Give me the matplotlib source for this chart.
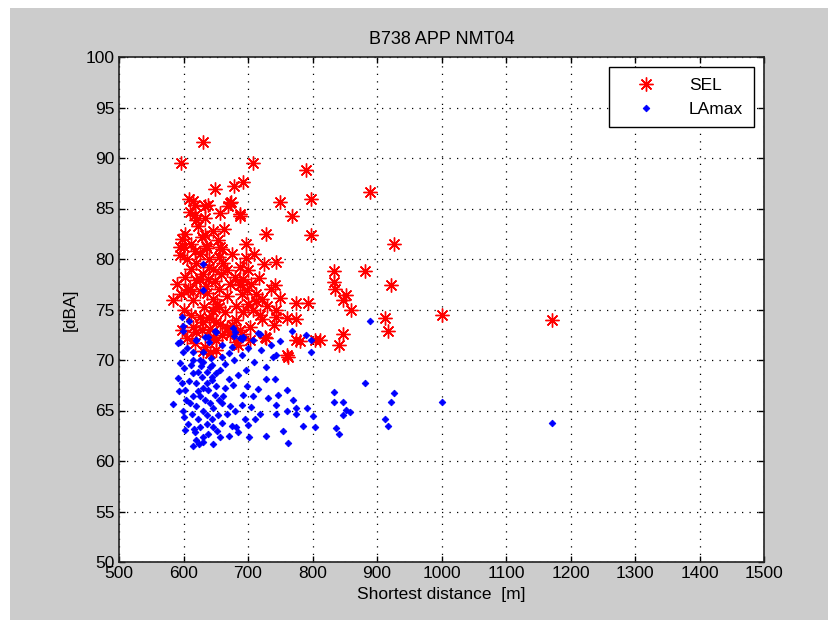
import matplotlib
matplotlib.use("Agg")
import matplotlib.pyplot as plt
from matplotlib.patches import Rectangle

## Data
sel_dist = [631, 596, 707, 790, 889, 649, 678, 692, 609, 615,
            618, 633, 638, 674, 669, 657, 687, 749, 768, 797,
            728, 797, 610, 618, 634, 622, 602, 597, 633, 635,
            654, 656, 595, 926, 833, 882, 833, 835, 921, 852,
            848, 859, 912, 917, 848, 841, 1000, 1172, 812, 697,
            744, 717, 742, 687, 713, 775, 793, 749, 743, 760,
            774, 721, 726, 775, 804, 760, 583, 595, 600, 667,
            688, 602, 620, 649, 680, 698, 682, 667, 636, 615,
            607, 646, 626, 657, 682, 719, 703, 641, 615, 646,
            672, 700, 618, 633, 641, 631, 651, 728, 762, 780,
            690, 703, 682, 744, 620, 636, 672, 688, 620,
            605, 612, 625, 640, 645, 655, 662, 675, 630, 638,
            658, 672, 610, 625, 645, 655, 690, 705, 600, 612,
            632, 640, 652, 665, 675, 692, 708, 620, 630, 660,
            688, 598, 605, 625, 650, 635, 618, 660, 628, 645,
            663, 612, 697, 710, 590, 596, 655, 668, 640, 628,
            692, 712, 735, 725, 722, 740, 730, 700, 685, 650]
sel_db = [91.6, 89.5, 89.5, 88.8, 86.6, 86.9, 87.2, 87.6, 85.9, 85.7,
          85.3, 85.2, 85.3, 85.6, 85.2, 84.6, 84.3, 85.6, 84.3, 85.9,
          82.5, 82.4, 84.7, 84.4, 84.1, 83.3, 82.5, 82.0, 82.4, 81.3,
          81.9, 81.2, 81.2, 81.5, 78.8, 78.8, 77.7, 77.0, 77.4, 76.4,
          75.9, 75.0, 74.2, 72.9, 72.6, 71.5, 74.5, 74.0, 72.0, 80.1,
          79.7, 78.1, 77.4, 77.4, 75.8, 75.6, 75.6, 76.1, 75.0, 74.2,
          74.1, 74.1, 72.3, 72.0, 72.0, 70.5, 75.9, 80.4, 81.2, 78.9,
          79.2, 78.2, 77.9, 77.8, 78.2, 76.9, 75.3, 76.3, 76.6, 75.9,
          76.9, 74.9, 74.3, 73.6, 74.0, 74.5, 73.3, 73.1, 73.3, 72.3,
          72.6, 78.9, 71.7, 71.3, 70.7, 70.9, 71.0, 72.2, 70.3, 71.9,
          72.6, 72.0, 71.8, 74.3, 79.6, 81.1, 85.5, 84.5, 83.9,
          80.0, 79.0, 80.5, 80.0, 79.0, 80.2, 79.6, 80.5, 78.5, 78.0,
          78.5, 77.5, 77.0, 76.8, 76.0, 77.0, 76.5, 77.5, 75.0, 74.5,
          75.2, 74.2, 75.5, 74.8, 73.5, 74.8, 75.0, 72.8, 73.8, 72.5,
          73.0, 73.0, 72.2, 78.0, 73.8, 77.3, 80.8, 81.0, 82.2, 82.8,
          83.0, 81.5, 81.5, 80.5, 77.5, 76.5, 75.2, 73.2, 79.2, 73.0,
          78.0, 76.5, 77.0, 79.5, 76.0, 73.5, 75.3, 75.5, 71.5, 72.0]

lamax_dist = [631, 631, 597, 609, 599, 599, 595, 620, 638, 640,
              649, 676, 680, 688, 693, 707, 716, 768, 790, 797,
              744, 739, 599, 615, 631, 675, 670, 592, 619, 633,
              651, 678, 690, 718, 749, 797, 678, 659, 601, 595,
              631, 644, 697, 728, 728, 742, 670, 677, 698, 716,
              707, 693, 731, 747, 583, 744, 744, 760, 775, 792,
              775, 719, 711, 695, 700, 682, 685, 702, 728, 755,
              762, 804, 615, 624, 646, 670, 657, 638, 602, 620,
              631, 592, 597, 593, 602, 604, 599, 601, 607, 614,
              623, 628, 619, 636, 644, 651, 649, 662, 659, 672,
              680, 667, 654, 644, 636, 646, 626, 618, 626, 633,
              641, 620, 631, 613, 623, 638, 630, 641, 636, 651,
              614, 610, 623, 646, 636, 609, 644,
              889, 882, 834, 926, 834, 848, 921, 1000, 852, 858,
              847, 912, 917, 836, 841, 1172,
              612, 625, 656, 665, 616, 630, 652, 660, 675, 690,
              705, 665, 685, 710, 720, 735, 760, 770, 785, 800,
              660, 606, 642, 655, 627, 615, 690, 700]
lamax_db = [79.5, 76.9, 74.3, 73.9, 73.4, 72.9, 71.8, 72.0, 72.3, 71.8,
            72.9, 73.2, 72.8, 72.2, 72.3, 72.0, 72.7, 72.9, 72.5, 72.0,
            70.5, 70.3, 70.8, 70.8, 70.8, 71.3, 70.7, 71.7, 72.0, 72.3,
            72.8, 72.4, 72.1, 72.6, 71.9, 70.8, 70.0, 70.3, 69.2, 69.7,
            69.8, 69.5, 69.0, 69.3, 68.1, 68.1, 68.1, 67.5, 67.4, 67.1,
            66.4, 66.5, 66.2, 66.5, 65.6, 65.5, 64.7, 65.0, 65.2, 65.2,
            64.7, 64.7, 64.2, 64.2, 63.6, 63.4, 62.9, 62.4, 62.5, 63.0,
            61.8, 63.4, 61.5, 61.7, 61.7, 62.5, 62.4, 62.7, 63.1, 62.1,
            62.4, 68.2, 67.7, 66.9, 67.0, 66.0, 65.0, 64.4, 63.7, 68.7,
            68.8, 68.3, 67.7, 67.7, 68.0, 67.4, 66.5, 66.4, 65.7, 65.4,
            65.0, 64.7, 64.6, 64.2, 63.7, 63.4, 63.4, 62.9, 66.4, 66.0,
            65.7, 65.4, 65.0, 64.7, 64.2, 67.0, 67.2, 69.3, 68.8, 68.7,
            66.4, 65.7, 66.9, 65.2, 64.6, 67.9, 68.3,
            73.9, 67.7, 66.8, 66.7, 65.8, 65.8, 65.8, 65.8, 65.05, 64.85,
            64.6, 64.2, 63.5, 63.3, 62.7, 63.8,
            69.5, 70.0, 69.0, 69.6, 63.2, 61.9, 63.0, 63.8, 63.5, 65.5,
            65.3, 67.2, 68.5, 69.8, 71.0, 71.5, 67.0, 66.0, 63.5, 64.5,
            71.5, 71.2, 70.2, 66.0, 69.4, 70.0, 70.5, 71.2]

x_ticks = list(range(500, 1501, 100))
y_ticks = list(range(50, 101, 5))

plt.rcParams["font.family"] = ["Liberation Sans", "DejaVu Sans"]

fig = plt.figure(figsize=(8.29, 6.2), dpi=100)
fig.patch.set_facecolor("white")
# grey MATLAB-like figure panel, drawn behind the axes
panel = Rectangle((10 / 829, 0), 1, 1 - 8 / 620, transform=fig.transFigure,
                  facecolor="#cccccc", edgecolor="none", zorder=-10)
fig.add_artist(panel)

ax = fig.add_axes([119 / 829, 1 - 562 / 620, (764 - 119) / 829, (562 - 57) / 620])
ax.set_facecolor("white")

ax.plot(sel_dist, sel_db, linestyle="none", marker=(8, 2, 0), markersize=10,
        markeredgewidth=1.0, color="red", label="SEL")
ax.plot(lamax_dist, lamax_db, linestyle="none", marker="D", markersize=3.4,
        markeredgewidth=0.6, color="blue", label="LAmax")

ax.set_xlim(500, 1500)
ax.set_ylim(50, 100)
ax.set_xticks(x_ticks)
ax.set_yticks(y_ticks)
ax.grid(True, color="black", linestyle=(0, (1, 5)), linewidth=0.9)
ax.tick_params(direction="in", length=4, width=1, top=True, right=True,
               labelsize=12.5, pad=3)
for s in ax.spines.values():
    s.set_linewidth(1.2)
    s.set_color("#222222")

ax.set_title("B738 APP NMT04", fontsize=13, pad=9)
ax.set_xlabel("Shortest distance  [m]", fontsize=12.5, labelpad=4)
ax.set_ylabel("[dBA]", fontsize=12.5, labelpad=6)

leg = ax.legend(loc="upper right", fontsize=12.5, fancybox=False, framealpha=1,
                edgecolor="black", borderpad=0.6, handlelength=3.0,
                handletextpad=1.0, borderaxespad=0.6, markerscale=1.0)
leg.get_frame().set_linewidth(1.0)

fig.savefig("out.png", dpi=100)
